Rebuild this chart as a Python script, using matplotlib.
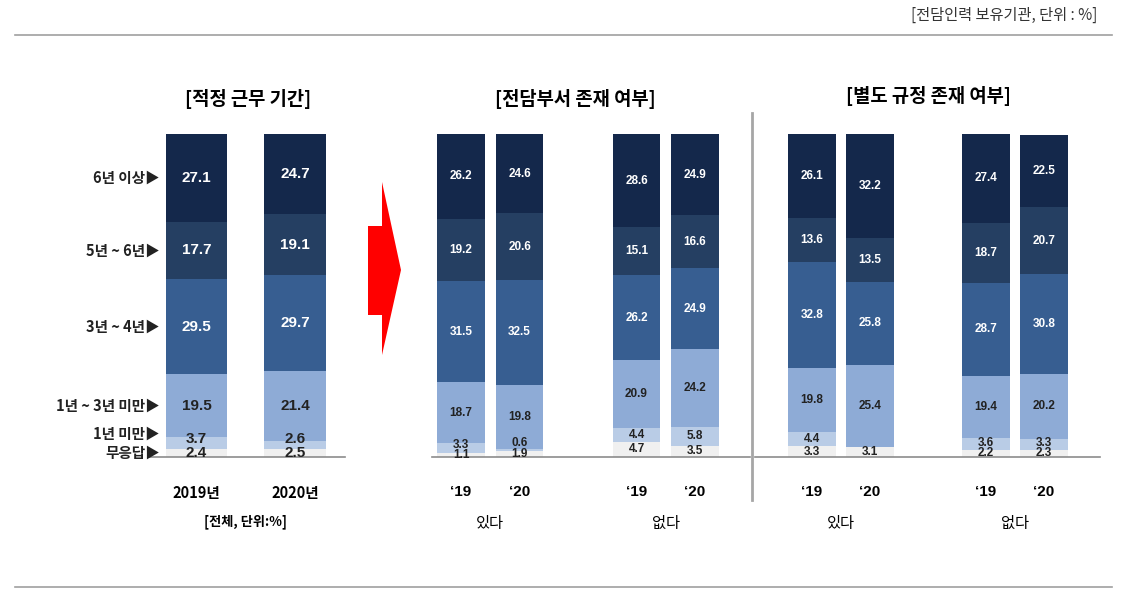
import matplotlib
matplotlib.use("Agg")
import matplotlib.pyplot as plt
import matplotlib.transforms as mtransforms
from matplotlib.patches import Polygon

plt.rcParams["font.family"] = ["Noto Sans CJK KR", "DejaVu Sans"]

# categories, bottom to top
categories = ["무응답", "1년 미만", "1년 ~ 3년 미만", "3년 ~ 4년", "5년 ~ 6년", "6년 이상"]
colors = ["#f0f0f0", "#b9cce6", "#8eabd6", "#375e91", "#253f62", "#14284b"]
text_colors = ["#222222", "#222222", "#222222", "white", "white", "white"]

# panel 1: 적정 근무 기간 (전체)
p1_labels = ["2019년", "2020년"]
p1_2019 = [2.4, 3.7, 19.5, 29.5, 17.7, 27.1]
p1_2020 = [2.5, 2.6, 21.4, 29.7, 19.1, 24.7]

# panel 2: 전담부서 존재 여부
p2_labels = ["‘19", "‘20", "‘19", "‘20"]
p2_groups = ["있다", "없다"]
p2_yes_19 = [1.1, 3.3, 18.7, 31.5, 19.2, 26.2]
p2_yes_20 = [1.9, 0.6, 19.8, 32.5, 20.6, 24.6]
p2_no_19 = [4.7, 4.4, 20.9, 26.2, 15.1, 28.6]
p2_no_20 = [3.5, 5.8, 24.2, 24.9, 16.6, 24.9]

# panel 3: 별도 규정 존재 여부
p3_labels = ["‘19", "‘20", "‘19", "‘20"]
p3_groups = ["있다", "없다"]
p3_yes_19 = [3.3, 4.4, 19.8, 32.8, 13.6, 26.1]
p3_yes_20 = [3.1, 0.0, 25.4, 25.8, 13.5, 32.2]
p3_no_19 = [2.2, 3.6, 19.4, 28.7, 18.7, 27.4]
p3_no_20 = [2.3, 3.3, 20.2, 30.8, 20.7, 22.5]

W, H = 1132, 602
fig = plt.figure(figsize=(W / 100, H / 100), dpi=100)

# overlay in pixel coordinates for decorations
bg = fig.add_axes([0, 0, 1, 1])
bg.set_xlim(0, W)
bg.set_ylim(H, 0)
bg.axis("off")


def px_axes(x0, x1, y_top=134, y_bot=457):
    return fig.add_axes([x0 / W, (H - y_bot) / H, (x1 - x0) / W, (y_bot - y_top) / H])


def stacked(ax, pos, vals, width, fs, min_gap):
    bottom = 0
    prev_y = None
    for i, v in enumerate(vals):
        ax.bar(pos, v, width, bottom=bottom, color=colors[i], edgecolor="none")
        if v > 0:
            y = bottom + v / 2
            # keep the two thin bottom labels from sitting on each other
            if i == 1 and prev_y is not None:
                y = max(y, prev_y + min_gap)
            ax.text(pos, y, f"{v:.1f}", ha="center", va="center",
                    fontsize=fs, fontweight="bold", color=text_colors[i],
                    family=["Liberation Sans", "DejaVu Sans"])
            prev_y = y
        bottom += v


def style(ax, xlim):
    ax.set_xlim(*xlim)
    ax.set_ylim(0, 100)
    for s in ["top", "left", "right"]:
        ax.spines[s].set_visible(False)
    ax.spines["bottom"].set_color("#8c8c8c")
    ax.spines["bottom"].set_linewidth(1.2)
    ax.set_yticks([])
    ax.tick_params(axis="x", length=0, pad=20)


# panel 1
ax1 = px_axes(150, 345)
for i, vals in enumerate([p1_2019, p1_2020]):
    stacked(ax1, i, vals, 0.62, 11, 4.3)
style(ax1, (-0.472, 1.508))
ax1.set_xticks([0, 1])
ax1.set_xticklabels(p1_labels, fontsize=10.5, fontweight="bold")
ax1.text(0.5, -0.2, "[전체, 단위:%]", transform=mtransforms.blended_transform_factory(ax1.transData, ax1.transAxes),
         ha="center", va="center", fontsize=9.5, fontweight="bold")
# category labels aligned to the 2019 bar
cum = 0
for i, v in enumerate(p1_2019):
    off = 3 if i == 1 else 0
    ax1.text(-0.37, cum + v / 2 + off, categories[i] + "▶", ha="right", va="center",
             fontsize=10.5, fontweight="bold", color="#222222")
    cum += v

# panel 2
ax2 = px_axes(432, 750)
for pos, vals in zip([0, 1, 3, 4], [p2_yes_19, p2_yes_20, p2_no_19, p2_no_20]):
    stacked(ax2, pos, vals, 0.82, 8.5, 3.3)
style(ax2, (-0.496, 4.94))
ax2.set_xticks([0, 1, 3, 4])
ax2.set_xticklabels(p2_labels, fontsize=11, fontweight="bold", family=["Liberation Sans", "DejaVu Sans"])
tr2 = mtransforms.blended_transform_factory(ax2.transData, ax2.transAxes)
for gx, g in zip([0.5, 3.5], p2_groups):
    ax2.text(gx, -0.207, g, transform=tr2, ha="center", va="center", fontsize=11)

# panel 3
ax3 = px_axes(755, 1100)
for pos, vals in zip([0, 1, 3, 4], [p3_yes_19, p3_yes_20, p3_no_19, p3_no_20]):
    stacked(ax3, pos, vals, 0.83, 8.5, 3.3)
style(ax3, (-0.98, 4.97))
ax3.set_xticks([0, 1, 3, 4])
ax3.set_xticklabels(p3_labels, fontsize=11, fontweight="bold", family=["Liberation Sans", "DejaVu Sans"])
tr3 = mtransforms.blended_transform_factory(ax3.transData, ax3.transAxes)
for gx, g in zip([0.5, 3.5], p3_groups):
    ax3.text(gx, -0.207, g, transform=tr3, ha="center", va="center", fontsize=11)

# titles
bg.text(248, 99, "[적정 근무 기간]", ha="center", va="center", fontsize=13.5, fontweight="bold")
bg.text(575, 99, "[전담부서 존재 여부]", ha="center", va="center", fontsize=13.5, fontweight="bold")
bg.text(928, 96, "[별도 규정 존재 여부]", ha="center", va="center", fontsize=13.5, fontweight="bold")
bg.text(1097, 15, "[전담인력 보유기관, 단위 : %]", ha="right", va="center", fontsize=11, color="#333333")

# frame lines and divider
bg.plot([15, 1112], [35, 35], color="#a0a0a0", lw=1.2)
bg.plot([15, 1112], [587, 587], color="#a0a0a0", lw=1.2)
bg.plot([752, 752], [113, 500], color="#a6a6a6", lw=2)

# red arrow
bg.add_patch(Polygon([(368, 226), (382, 226), (382, 182), (401, 270), (382, 355), (382, 315), (368, 315)],
                     closed=True, facecolor="#ff0000", edgecolor="none"))

fig.savefig("out.png", dpi=100)
